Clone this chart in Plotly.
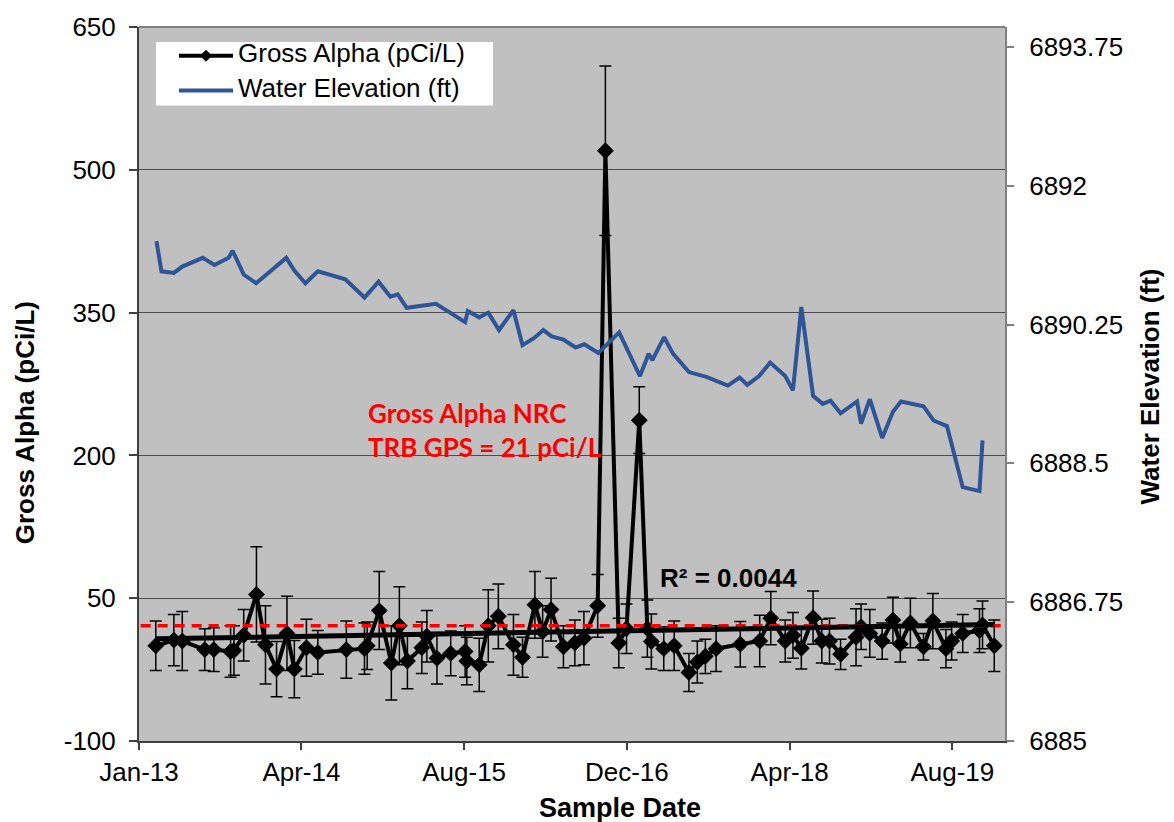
import numpy as np
import pandas as pd
import plotly.graph_objects as go

# Gross alpha results (pCi/L) with analytical uncertainty
alpha_dates = [
    "2013-02-20", "2013-04-15", "2013-05-10", "2013-07-16", "2013-08-12", "2013-10-01",
    "2013-10-11", "2013-11-09", "2013-12-17",
    "2014-01-13", "2014-02-15", "2014-03-18", "2014-04-09", "2014-05-15", "2014-06-18",
    "2014-09-11", "2014-11-04", "2014-11-12", "2014-12-18",
    "2015-01-23", "2015-02-16", "2015-03-12", "2015-04-24", "2015-05-09", "2015-06-08",
    "2015-07-19", "2015-08-31", "2015-09-05", "2015-10-12", "2015-11-08", "2015-12-08",
    "2016-01-22", "2016-02-18", "2016-03-26", "2016-04-18", "2016-05-13", "2016-06-19",
    "2016-07-23", "2016-08-19", "2016-09-29", "2016-10-22", "2016-12-01", "2016-12-24",
    "2017-01-31", "2017-02-24", "2017-03-08", "2017-04-14", "2017-05-15", "2017-06-28",
    "2017-07-23", "2017-08-16", "2017-09-17", "2017-11-28",
    "2018-01-25", "2018-02-27", "2018-04-11", "2018-05-04", "2018-05-29", "2018-07-03",
    "2018-07-29", "2018-08-21", "2018-09-23", "2018-11-08", "2018-11-23", "2018-12-19",
    "2019-01-25", "2019-02-26", "2019-03-20", "2019-04-19", "2019-05-28", "2019-06-25",
    "2019-08-03", "2019-08-20", "2019-09-22", "2019-11-11", "2019-11-20", "2019-12-25",
]
alpha_values = [
    0, 6, 5, -4, -4, -6, -5, 11, 54,
    1, -24.5, 13, -24.5, -2, -7, -4, -3, 0, 37,
    -18, 21, -16, -2, 10, -13, -8, -6, -16, -20, 21, 31,
    1, -12, 43, 15, 38, -1, 3, 8, 42, 520, 3, 18,
    237, 18, 4.5, -3, 0, -28, -17, -11, -3, 1.6,
    5, 29, 5, 11, -2.5, 29.5, 5, 5, -9, 9, 20, 13,
    5, 27, 2, 24, -1, 26, -3, 5, 13, 16, 22, 0,
]
alpha_errors = [
    26, 27, 31, 22, 23, 27, 26, 27, 50,
    41, 29, 39, 30, 30, 23, 30, 27, 25, 41,
    39, 41, 29, 27, 27, 27, 23.5, 27, 25, 28, 38, 34,
    32, 21, 35, 27, 33, 22, 24, 28, 33, 89, 26, 26,
    35, 30, 29, 23, 26, 20, 22, 18, 24, 24,
    27, 28, 22, 24, 22, 28, 23, 24, 16, 30, 24, 25,
    19, 24, 19, 26, 14, 29, 20, 20, 20, 23, 25, 27,
]

# Water elevation (ft)
water_dates = [
    "2013-02-22", "2013-03-09", "2013-04-15", "2013-05-10", "2013-07-10", "2013-08-14",
    "2013-09-25", "2013-10-07", "2013-11-09", "2013-12-16",
    "2014-03-16", "2014-04-09", "2014-05-12", "2014-06-18", "2014-09-08", "2014-11-04",
    "2014-12-16",
    "2015-01-20", "2015-02-11", "2015-03-10", "2015-06-05", "2015-08-31", "2015-09-08",
    "2015-10-12", "2015-11-08", "2015-12-10",
    "2016-01-22", "2016-02-18", "2016-03-24", "2016-04-20", "2016-05-15", "2016-06-19",
    "2016-07-25", "2016-08-20", "2016-10-01", "2016-12-02",
    "2017-02-02", "2017-02-28", "2017-03-11", "2017-04-15", "2017-05-12", "2017-06-28",
    "2017-08-19", "2017-10-22", "2017-11-26", "2017-12-19",
    "2018-01-23", "2018-02-25", "2018-04-11", "2018-05-04", "2018-05-29", "2018-07-03",
    "2018-08-01", "2018-08-24", "2018-09-23", "2018-11-11", "2018-11-23", "2018-12-19",
    "2019-01-25", "2019-02-26", "2019-03-22", "2019-05-28", "2019-06-27", "2019-08-06",
    "2019-09-22", "2019-11-11", "2019-11-20",
]
water_values = [
    6891.30, 6890.92, 6890.90, 6890.98, 6891.09, 6891.00,
    6891.09, 6891.18, 6890.88, 6890.77,
    6891.09, 6890.93, 6890.77, 6890.92, 6890.82, 6890.59,
    6890.79,
    6890.60, 6890.63, 6890.46, 6890.51, 6890.28, 6890.42,
    6890.34, 6890.40, 6890.18,
    6890.43, 6889.99, 6890.08, 6890.18, 6890.10, 6890.06,
    6889.96, 6890.00, 6889.89, 6890.15,
    6889.60, 6889.88, 6889.80, 6890.09, 6889.88, 6889.65,
    6889.59, 6889.48, 6889.58, 6889.49,
    6889.60, 6889.77, 6889.60, 6889.42, 6890.47, 6889.35,
    6889.25, 6889.29, 6889.13, 6889.28, 6889.00, 6889.31,
    6888.82, 6889.15, 6889.28, 6889.22, 6889.04, 6888.97,
    6888.20, 6888.15, 6888.79,
]

# NRC TRB groundwater protection standard
limit_dates = ["2013-01-06", "2020-01-26"]
limit_values = [21, 21]

# Axis ticks
x_tick_dates = ["2013-01-01", "2014-04-30", "2015-08-28", "2016-12-25", "2018-04-24", "2019-08-22"]
x_tick_labels = ["Jan-13", "Apr-14", "Aug-15", "Dec-16", "Apr-18", "Aug-19"]
alpha_ticks = [-100, 50, 200, 350, 500, 650]
alpha_tick_labels = ["-100", "50", "200", "350", "500", "650"]
elev_ticks = [6885, 6886.75, 6888.5, 6890.25, 6892, 6893.75]
elev_tick_labels = ["6885", "6886.75", "6888.5", "6890.25", "6892", "6893.75"]

# Linear trend of gross alpha vs. time
t = pd.to_datetime(alpha_dates)
days = (t - t[0]).days.values.astype(float)
slope, intercept = np.polyfit(days, np.array(alpha_values, dtype=float), 1)
trend_x = [t[0], t[-1]]
trend_y = [intercept, intercept + slope * days[-1]]

FONT = "Liberation Sans, Arial, sans-serif"
W, H = 1174, 822
L, R, T, B = 139, 169, 22, 81
PW, PH = W - L - R, H - T - B


def px(x):
    return (x - L) / PW


def py(y):
    return (H - B - y) / PH


fig = go.Figure()

fig.add_trace(go.Scatter(
    x=water_dates, y=water_values, yaxis="y2", mode="lines",
    name="Water Elevation (ft)", showlegend=False,
    line=dict(color="#2F5597", width=4),
))

fig.add_trace(go.Scatter(
    x=alpha_dates, y=alpha_values, mode="lines+markers",
    name="Gross Alpha (pCi/L)", showlegend=False,
    line=dict(color="black", width=4),
    marker=dict(symbol="diamond", size=13, color="black"),
    error_y=dict(type="data", array=alpha_errors, visible=True,
                 color="black", thickness=1.5, width=6),
))

fig.add_trace(go.Scatter(
    x=limit_dates, y=limit_values, mode="lines", showlegend=False,
    line=dict(color="#FF0000", width=3.5, dash="10px,7px"),
    hoverinfo="skip",
))

fig.add_trace(go.Scatter(
    x=trend_x, y=trend_y, mode="lines", showlegend=False,
    line=dict(color="black", width=5),
    hoverinfo="skip",
))

# Legend box drawn in paper space
leg_x0, leg_x1, leg_y0, leg_y1 = 156, 493, 37, 101
sym_x0, sym_x1 = 179, 233
row_y = [51, 86]
sym_xc = (sym_x0 + sym_x1) / 2
d = 5.5
diamond = "M {:.4f},{:.4f} L {:.4f},{:.4f} L {:.4f},{:.4f} L {:.4f},{:.4f} Z".format(
    px(sym_xc - d), py(row_y[0]), px(sym_xc), py(row_y[0] - d),
    px(sym_xc + d), py(row_y[0]), px(sym_xc), py(row_y[0] + d))

shapes = [
    dict(type="line", xref="paper", yref="paper", x0=0, x1=1, y0=1, y1=1,
         line=dict(color="#808080", width=2)),
    dict(type="rect", xref="paper", yref="paper",
         x0=px(leg_x0), x1=px(leg_x1), y0=py(leg_y1), y1=py(leg_y0),
         fillcolor="white", line=dict(width=0), layer="above"),
    dict(type="line", xref="paper", yref="paper",
         x0=px(sym_x0), x1=px(sym_x1), y0=py(row_y[0]), y1=py(row_y[0]),
         line=dict(color="black", width=4), layer="above"),
    dict(type="path", xref="paper", yref="paper", path=diamond,
         fillcolor="black", line=dict(color="black", width=1), layer="above"),
    dict(type="line", xref="paper", yref="paper",
         x0=px(sym_x0), x1=px(sym_x1), y0=py(row_y[1]), y1=py(row_y[1]),
         line=dict(color="#2F5597", width=4), layer="above"),
]

legend_labels = ["Gross Alpha (pCi/L)", "Water Elevation (ft)"]
annotations = [
    dict(text=lab, xref="paper", yref="paper", x=px(236), y=py(yy - 3),
         xanchor="left", yanchor="middle", showarrow=False,
         font=dict(family=FONT, size=26, color="black"))
    for lab, yy in zip(legend_labels, row_y)
]

annotations += [
    dict(text="Gross Alpha NRC<br>TRB GPS = 21 pCi/L",
         xref="paper", yref="paper", x=px(366), y=py(428),
         xanchor="left", yanchor="middle", align="left", showarrow=False,
         font=dict(family="Lato, sans-serif", size=26, color="#FF0000", weight="bold")),
    dict(text="<b>R² = 0.0044</b>",
         xref="paper", yref="paper", x=px(658), y=py(577),
         xanchor="left", yanchor="middle", showarrow=False,
         font=dict(family=FONT, size=26, color="black")),
    dict(text="<b>Gross Alpha (pCi/L)</b>", textangle=-90,
         xref="paper", yref="paper", x=px(25), y=py(421),
         xanchor="center", yanchor="middle", showarrow=False,
         font=dict(family=FONT, size=26, color="black")),
    dict(text="<b>Water Elevation (ft)</b>", textangle=-90,
         xref="paper", yref="paper", x=px(1150), y=py(384),
         xanchor="center", yanchor="middle", showarrow=False,
         font=dict(family=FONT, size=26, color="black")),
    dict(text="<b>Sample Date</b>",
         xref="paper", yref="paper", x=px(620), y=py(808),
         xanchor="center", yanchor="middle", showarrow=False,
         font=dict(family=FONT, size=27, color="black")),
]

fig.update_layout(
    width=W, height=H,
    margin=dict(l=L, r=R, t=T, b=B),
    paper_bgcolor="white",
    plot_bgcolor="#C0C0C0",
    font=dict(family=FONT, size=26, color="black"),
    showlegend=False,
    xaxis=dict(
        type="date",
        range=["2013-01-01", "2020-01-26"],
        tickvals=x_tick_dates, ticktext=x_tick_labels,
        showgrid=False, zeroline=False,
        showline=True, linecolor="#404040", linewidth=2,
        ticks="outside", ticklen=7, tickcolor="#404040", tickwidth=1.5,
        tickfont=dict(family=FONT, size=26),
    ),
    yaxis=dict(
        range=[-100, 650],
        tickvals=alpha_ticks, ticktext=alpha_tick_labels,
        showgrid=True, gridcolor="#4d4d4d", gridwidth=1.2,
        zeroline=False,
        showline=True, linecolor="#404040", linewidth=2,
        ticks="outside", ticklen=8, tickcolor="#404040", tickwidth=1.5,
        tickfont=dict(family=FONT, size=26),
        ticklabelstandoff=8,
    ),
    yaxis2=dict(
        range=[6885, 6894],
        overlaying="y", side="right",
        tickvals=elev_ticks, ticktext=elev_tick_labels,
        showgrid=False, zeroline=False,
        showline=True, linecolor="#808080", linewidth=2,
        ticks="outside", ticklen=7, tickcolor="#808080", tickwidth=1.5,
        tickfont=dict(family=FONT, size=26),
        ticklabelstandoff=10,
    ),
    shapes=shapes,
    annotations=annotations,
)

fig.write_html("out.html")
